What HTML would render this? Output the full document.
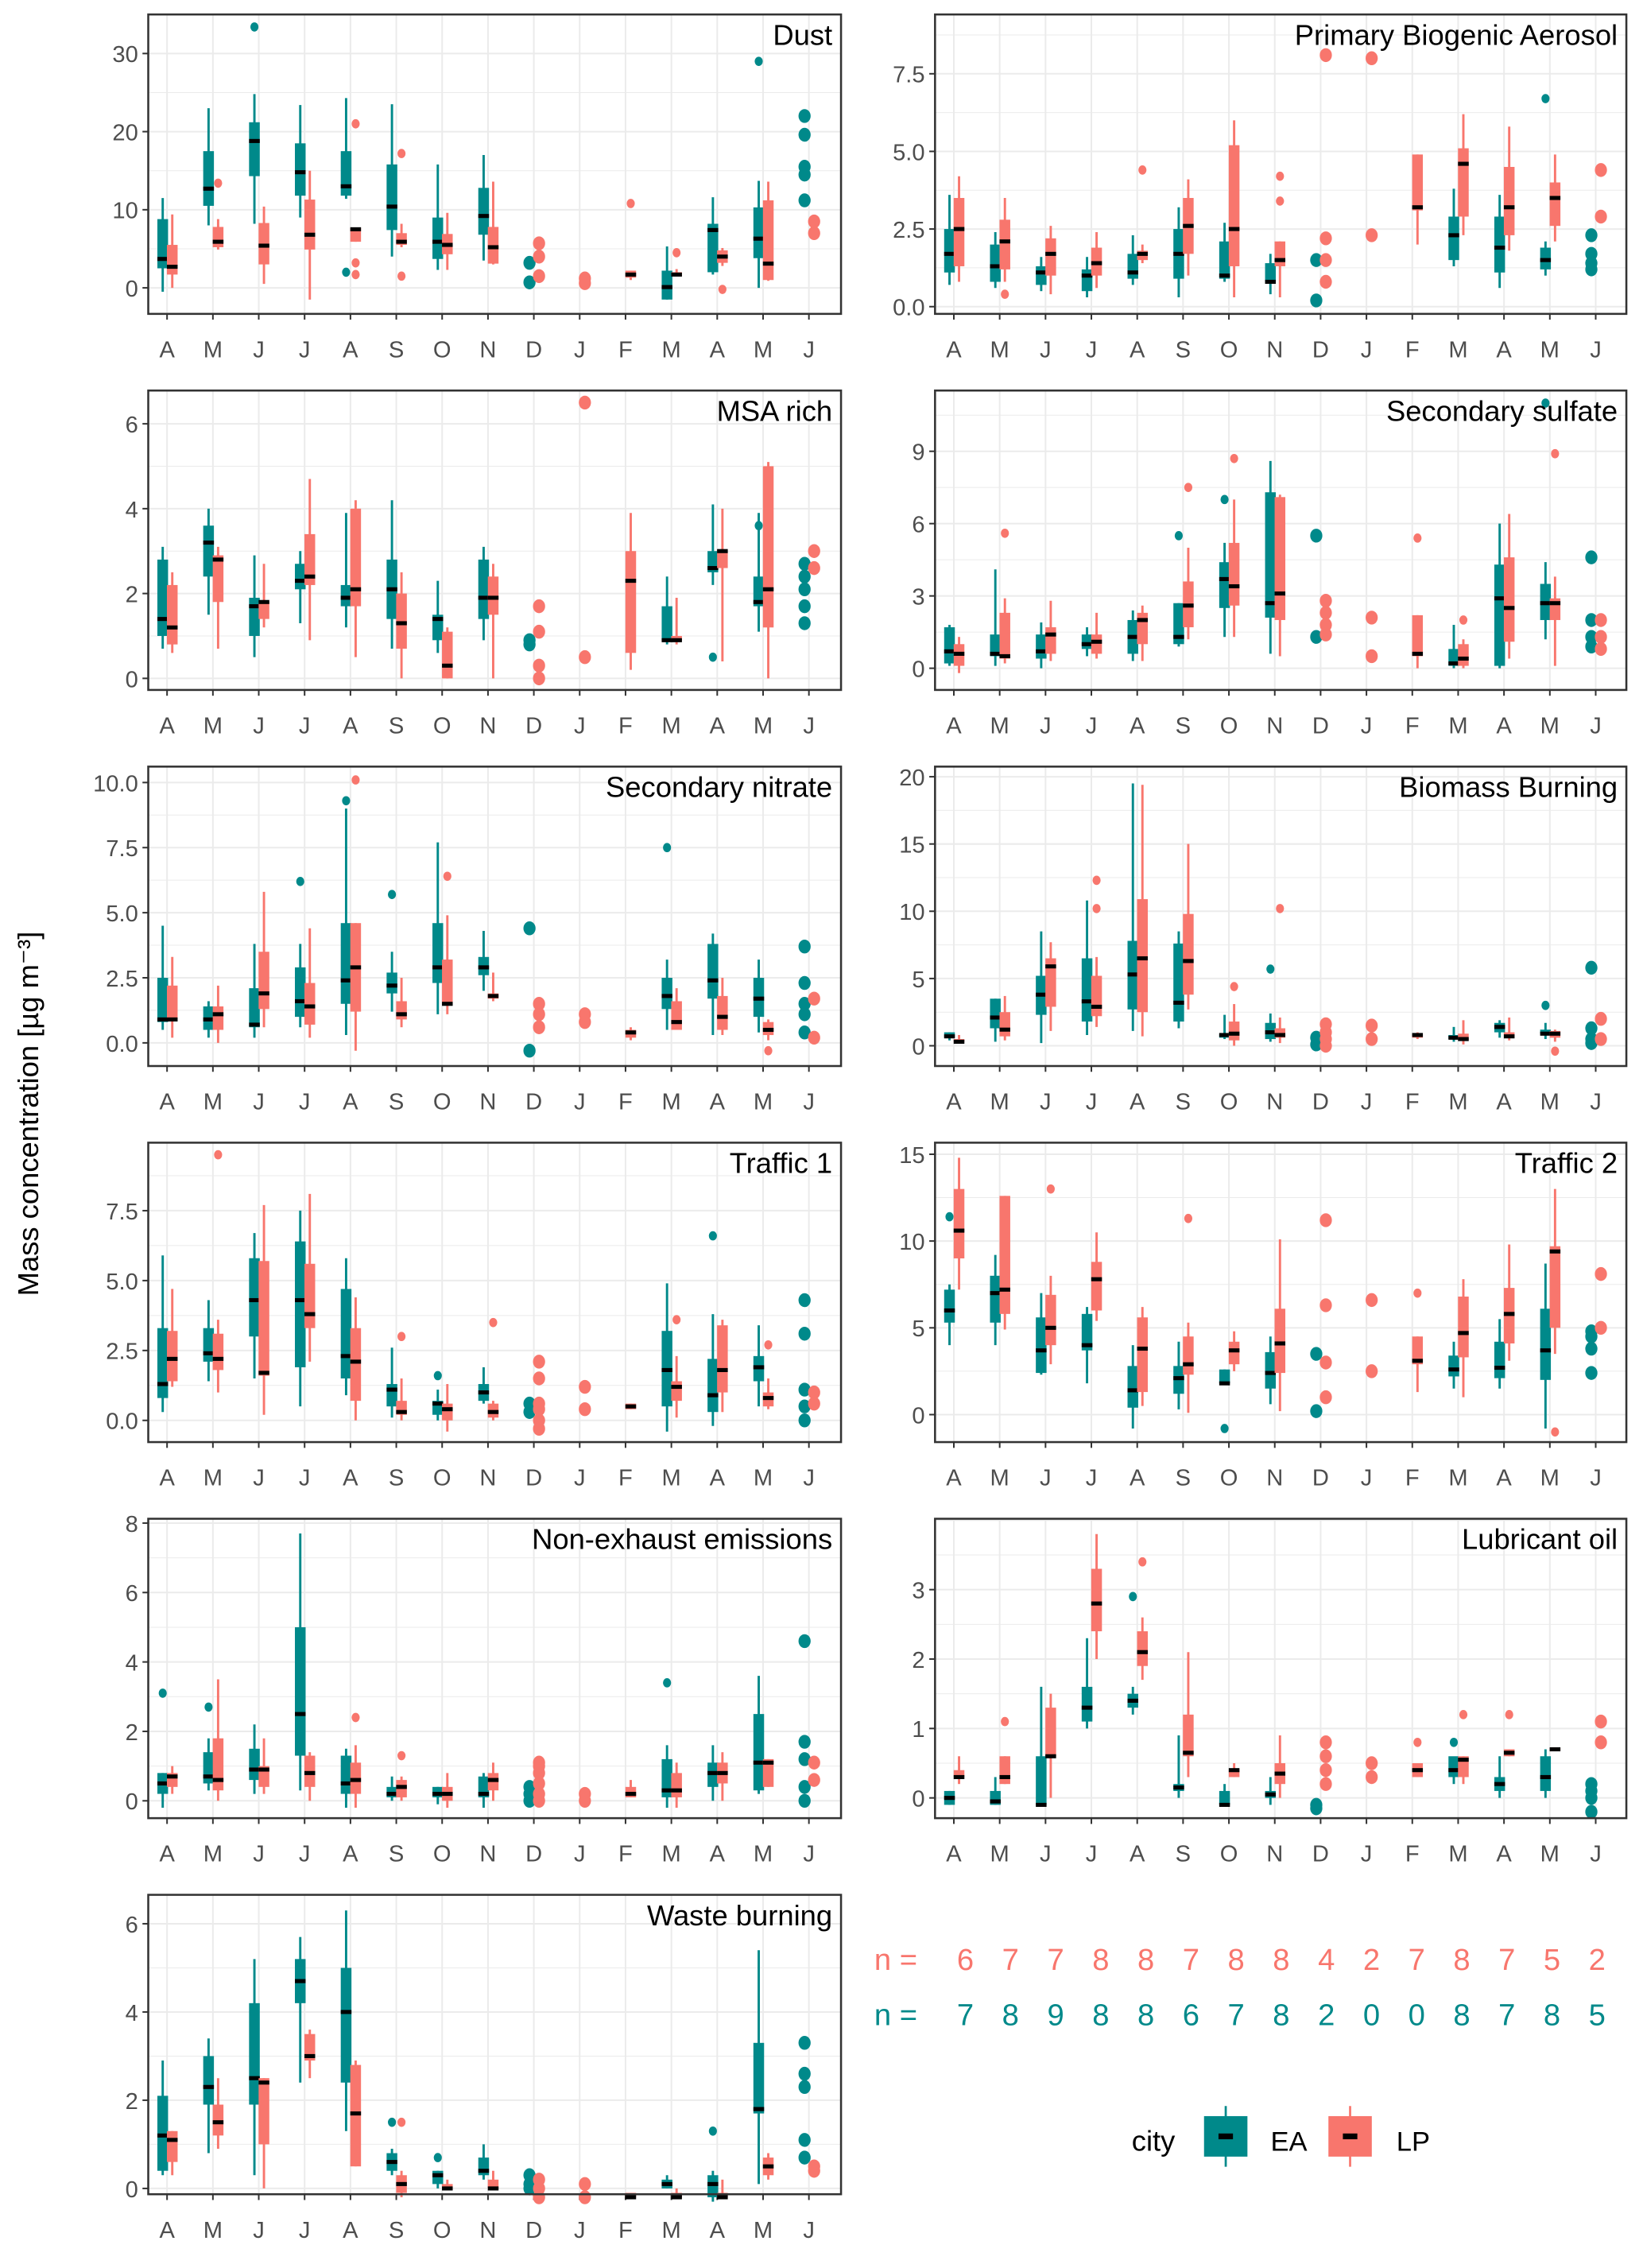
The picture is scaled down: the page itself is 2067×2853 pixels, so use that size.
<!DOCTYPE html>
<html><head><meta charset="utf-8"><style>
html,body{margin:0;padding:0;background:#fff}
svg{display:block}
text{font-family:"Liberation Sans",Arial,sans-serif}
</style></head><body>
<svg id="chart" width="2067" height="2853" viewBox="0 0 1135 1568" xmlns="http://www.w3.org/2000/svg">
<rect width="1135" height="1568" fill="#fff"/>
<text x="26" y="770" font-size="20" text-anchor="middle" transform="rotate(-90 26 770)">Mass concentration [µg m⁻³]</text>
<g id="plots"></g>
<g>
<text x="604" y="1362" font-size="21" fill="#f8766d">n =</text>
<text x="604" y="1400" font-size="21" fill="#00898a">n =</text>
<g id="ncounts"></g>
</g>
<g>
<text x="782" y="1487" font-size="20">city</text>
<g>
<line x1="847" y1="1456" x2="847" y2="1498" stroke="#00898a" stroke-width="1.5"/>
<rect x="832" y="1463" width="30" height="28" fill="#00898a"/>
<rect x="842" y="1475" width="10" height="4" fill="#000"/>
<text x="878" y="1487" font-size="19">EA</text></g>
<g>
<line x1="933" y1="1456" x2="933" y2="1498" stroke="#f8766d" stroke-width="1.5"/>
<rect x="918" y="1463" width="30" height="28" fill="#f8766d"/>
<rect x="928" y="1475" width="10" height="4" fill="#000"/>
<text x="965" y="1487" font-size="19">LP</text></g>
</g>
</svg>
<script>
const months=["A","M","J","J","A","S","O","N","D","J","F","M","A","M","J"];
const nLP=[6,7,7,8,8,7,8,8,4,2,7,8,7,5,2];
const nEA=[7,8,9,8,8,6,7,8,2,0,0,8,7,8,5];
const titles=["Dust","Primary Biogenic Aerosol","MSA rich","Secondary sulfate","Secondary nitrate","Biomass Burning","Traffic 1","Traffic 2","Non-exhaust emissions","Lubricant oil","Waste burning"];
const yTicks=[[0,10,20,30],[0,2.5,5,7.5],[0,2,4,6],[0,3,6,9],[0,2.5,5,7.5,10],[0,5,10,15,20],[0,2.5,5,7.5],[0,5,10,15],[0,2,4,6,8],[0,1,2,3],[0,2,4,6]];
const yTickLabels=[["0","10","20","30"],["0.0","2.5","5.0","7.5"],["0","2","4","6"],["0","3","6","9"],["0.0","2.5","5.0","7.5","10.0"],["0","5","10","15","20"],["0.0","2.5","5.0","7.5"],["0","5","10","15"],["0","2","4","6","8"],["0","1","2","3"],["0","2","4","6"]];
const N=null;
// box stats [lo,q1,med,q3,hi] per month
const eaBox=[
[[-0.5,2.5,3.7,8.8,11.5],[8,10.5,12.7,17.5,23],[8.2,14.3,18.8,21.2,24.8],[9,11.8,14.8,18.5,23.4],[11.4,11.8,13,17.5,24.3],[4,7.4,10.4,15.8,23.5],[2.3,3.7,5.9,9,15.8],[3.5,6.8,9.2,12.8,17],N,N,N,[-1.5,-1.5,0.1,2.2,5.3],[1.7,2,7.4,8.2,11.6],[0,3.8,6.3,10.3,13.7],N],
[[0.7,1.1,1.7,2.5,3.6],[0.6,0.8,1.3,2,2.4],[0.5,0.7,1.1,1.3,1.6],[0.3,0.5,1,1.2,1.6],[0.7,0.9,1.1,1.7,2.3],[0.3,0.9,1.7,2.5,3.2],[0.8,0.9,1,2.1,2.7],[0.4,0.8,0.8,1.4,1.7],N,N,N,[1.3,1.5,2.3,2.9,3.8],[0.6,1.1,1.9,2.9,3.6],[1,1.2,1.5,1.9,2.1],N],
[[0.7,1,1.4,2.8,3.1],[1.5,2.4,3.2,3.6,4],[0.5,1,1.7,1.9,2.9],[1.3,2.1,2.3,2.7,3],[1.2,1.7,1.9,2.2,3.9],[0.7,1.4,2.1,2.8,4.2],[0.6,0.9,1.4,1.5,2.3],[0.9,1.4,1.9,2.8,3.1],N,N,N,[0.8,0.9,0.9,1.7,2.4],[2.2,2.5,2.6,3,4.1],[1.1,1.7,1.8,2.4,3.9],N],
[[0.1,0.2,0.7,1.7,1.8],[0.1,0.5,0.6,1.4,4.1],[0,0.4,0.7,1.4,1.9],[0.5,0.8,1,1.4,1.7],[0.3,0.6,1.3,2,2.4],[0.9,1,1.3,2.7,2.7],[1.3,2.5,3.7,4.4,5.2],[0.6,2.1,2.7,7.3,8.6],N,N,N,[0,0.1,0.2,0.8,1.8],[0,0.1,2.9,4.3,6],[1.2,2,2.7,3.5,4.4],N],
[[0.5,0.8,0.9,2.5,4.5],[0.2,0.5,0.9,1.4,1.6],[0.2,0.6,0.7,2.1,3.8],[0.6,1,1.6,2.9,3.8],[0.3,1.5,2.4,4.6,9],[1.2,1.9,2.2,2.7,3.5],[1.1,2.3,2.9,4.6,7.7],[2,2.6,2.9,3.3,4.3],N,N,N,[0.5,1.3,1.8,2.5,3.2],[0.3,1.7,2.4,3.8,4.2],[0.4,1,1.7,2.5,3.2],N],
[[0.4,0.6,0.7,1,1],[0.3,1.3,2.1,3.5,3.5],[0.2,2.3,3.8,5.2,8.5],[0.8,1.8,3.3,6.5,10.8],[1.1,2.7,5.3,7.8,19.5],[1.3,1.8,3.2,7.6,8.5],[0.5,0.6,0.8,0.9,2.3],[0.3,0.5,1,1.7,2.4],N,N,N,[0.3,0.5,0.6,0.8,1.4],[0.6,1,1.4,1.7,1.9],[0.5,0.9,0.9,1.2,1.7],N],
[[0.3,0.8,1.3,3.3,5.9],[1.4,2.1,2.4,3.3,4.3],[1.5,3,4.3,5.8,6.7],[0.5,1.9,4.3,6.4,7.5],[0.9,1.5,2.3,4.7,5.8],[0.1,0.5,1.1,1.3,2.6],[0,0.2,0.6,0.7,1.1],[0.6,0.7,1,1.3,1.9],N,N,N,[-0.4,0.5,1.8,3.2,4.9],[-0.2,0.3,0.9,2.2,3.8],[0.5,1.4,1.9,2.3,3.4],N],
[[4,5.3,6,7.2,7.5],[4,5.3,7,8,9.2],[2.3,2.4,3.7,5.6,7],[1.8,3.7,4,5.8,6.2],[-0.8,0.4,1.4,2.8,4],[0.3,1.2,2.1,2.8,4.2],[1.7,1.8,1.8,2.6,2.6],[0.6,1.5,2.4,3.6,4.5],N,N,N,[1.5,2.2,2.6,3.4,4.2],[1.5,2.1,2.7,4.2,5.5],[-0.8,2,3.7,6.1,8.7],N],
[[-0.2,0.2,0.5,0.8,0.8],[0.3,0.5,0.7,1.4,1.8],[0.2,0.6,0.9,1.5,2.2],[0.3,1.3,2.5,5,7.7],[-0.2,0.2,0.5,1.3,1.5],[0,0.1,0.2,0.4,0.7],[-0.1,0.1,0.2,0.4,0.4],[-0.2,0.1,0.2,0.7,0.8],N,N,N,[-0.2,0.1,0.3,1.2,1.6],[0,0.4,0.8,1.1,1.6],[0.2,0.3,1.1,2.5,3.6],N],
[[-0.1,-0.1,0,0.1,0.1],[-0.1,-0.1,-0.05,0.1,0.3],[-0.1,-0.1,-0.1,0.6,1.6],[1,1.1,1.3,1.6,2.3],[1.2,1.3,1.4,1.5,1.6],[0,0.1,0.15,0.2,0.9],[-0.1,-0.1,-0.1,0.1,0.2],[-0.1,0,0.05,0.1,0.3],N,N,N,[0.2,0.3,0.4,0.6,0.55],[0,0.1,0.2,0.3,0.6],[0,0.1,0.3,0.6,0.7],N],
[[0.3,0.4,1.2,2.1,2.9],[0.8,1.9,2.3,3,3.4],[0.3,1.9,2.5,4.2,5.2],[2.4,4.2,4.7,5.2,5.7],[1.3,2.4,4,5,6.3],[0.3,0.4,0.6,0.8,0.9],[0,0.1,0.3,0.4,0.4],[0.2,0.3,0.4,0.7,1],N,N,N,[0,0,0.1,0.2,0.3],[-0.3,-0.2,0.1,0.3,0.4],[0.1,1.7,1.8,3.3,5.4],N]
];
const lpBox=[
[[0,1.7,2.7,5.5,9.4],[4.9,5.2,5.9,7.8,8.8],[0.5,3,5.4,8.3,10.4],[-1.5,4.9,6.8,11.3,15],[5.9,5.9,7.5,7.7,7.7],[5.2,5.5,5.9,7,8.2],[2.3,4.3,5.5,6.9,9.6],[3,3.1,5.2,7.8,13.6],N,N,[1,1.3,1.7,2.2,2.2],[1.5,1.5,1.7,2,2.4],[2.8,3.2,4,4.8,5.1],[0.9,1,3.1,11.2,13.6],N],
[[0.8,1.3,2.5,3.5,4.2],[0.8,1.2,2.1,2.8,3.5],[0.4,1,1.7,2.2,2.6],[0.6,1,1.4,1.9,2.4],[1.4,1.5,1.7,1.8,2],[1,1.7,2.6,3.5,4.1],[0.3,1.3,2.5,5.2,6],[0.3,1.3,1.5,2.1,2.1],N,N,[2,3.1,3.2,4.9,4.9],[2.3,2.9,4.6,5.1,6.2],[1.8,2.3,3.2,4.5,5.8],[2.1,2.6,3.5,4,4.9],N],
[[0.6,0.8,1.2,2.2,2.5],[0.7,1.8,2.8,2.9,3.1],[1.2,1.4,1.8,1.8,2.7],[0.9,2.2,2.4,3.4,4.7],[0.5,1.7,2.1,4,4.2],[0,0.7,1.3,2,2.5],[0,0,0.3,1.1,1.2],[0,1.5,1.9,2.4,2.7],N,N,[0.2,0.6,2.3,3,3.9],[0.8,0.9,0.9,1,1.9],[0.4,2.6,3,3,4],[0,1.2,2.1,5,5.1],N],
[[-0.2,0.1,0.6,1,1.3],[0.2,0.4,0.5,2.3,2.9],[0.3,0.6,1.4,1.7,2.8],[0.4,0.6,1.1,1.4,2.3],[0.3,1,2,2.3,2.6],[1.2,1.7,2.6,3.6,5],[1.3,2.6,3.4,5.2,7],[0.5,2,3.1,7.1,7.2],N,N,[0,0.5,0.6,2.2,2.2],[0,0.1,0.4,1,1.2],[0.4,1.1,2.5,4.6,6.4],[0.1,2,2.7,2.9,3.8],N],
[[0.2,0.9,0.9,2.2,3.3],[0,0.5,1.1,1.4,2.2],[0.6,1.3,1.9,3.5,5.8],[0.2,0.7,1.4,2.3,4.4],[-0.3,1.2,2.9,4.6,4.6],[0.6,0.9,1.1,1.6,2.5],[1.1,1.5,1.5,3.2,4.9],[1.6,1.7,1.8,1.9,2.7],N,N,[0.1,0.2,0.4,0.5,0.6],[0.5,0.5,0.8,1.6,2.1],[0.3,0.5,1,1.8,2.5],[0.1,0.3,0.5,0.8,0.9],N],
[[0.2,0.3,0.3,0.5,0.8],[0.4,0.7,1.2,2.5,3.7],[1.1,2.9,5.9,6.5,7.7],[1.4,2.2,2.9,5.2,6.6],[0.7,2.5,6.5,10.9,19.4],[2.7,3.8,6.3,9.8,15],[0,0.4,0.9,1.8,3.1],[0.2,0.6,0.8,1.3,2.1],N,N,[0.5,0.6,0.8,0.9,1],[0.1,0.4,0.5,0.9,1.9],[0.4,0.6,0.7,1,2.1],[0.3,0.6,0.9,1.1,1.2],N],
[[1.2,1.4,2.2,3.2,4.7],[1,1.8,2.2,3.1,3.6],[0.2,1.6,1.7,5.7,7.7],[2.1,3.3,3.8,5.6,8.1],[0,0.7,2.1,3.3,4.4],[0,0.2,0.3,0.7,1.5],[-0.4,0,0.4,0.6,1.3],[0,0.1,0.3,0.6,0.7],N,N,[0.4,0.4,0.5,0.6,0.6],[0.1,0.7,1.2,1.4,2.3],[0.3,1,1.8,3.4,3.6],[0.4,0.5,0.8,1,1.5],N],
[[7.2,9,10.6,13,14.8],[4.9,5.8,7.2,12.6,12.6],[2.9,4,5,6.9,8],[5.4,6,7.8,8.8,10.5],[0.5,1.3,3.8,5.6,6.2],[0.1,2.3,2.9,4.5,5.3],[2.5,2.9,3.7,4.2,4.8],[0.2,2.4,4.1,6.1,10.1],N,N,[1.3,2.9,3.1,4.5,4.5],[1,3.3,4.7,6.8,7.8],[3.1,4.1,5.8,7.3,9.8],[3.5,5,9.4,9.7,13],N],
[[0.2,0.4,0.7,0.8,1],[0,0.3,0.6,1.8,3.5],[0.2,0.4,0.9,1,1.8],[0,0.4,0.8,1.3,1.4],[-0.2,0.2,0.6,1.1,1.6],[0,0.1,0.4,0.6,0.7],[-0.2,0,0.2,0.4,0.8],[0,0.3,0.6,0.8,1.1],N,N,[0.1,0.1,0.2,0.4,0.6],[-0.2,0.1,0.3,0.8,1.1],[0,0.5,0.8,1.1,1.4],[0.4,0.4,1.1,1.2,1.2],N],
[[0.2,0.3,0.3,0.4,0.6],[0.2,0.2,0.3,0.6,0.6],[0,0.6,0.6,1.3,1.5],[2,2.4,2.8,3.3,3.8],[1.7,1.9,2.1,2.4,2.6],[0.3,0.6,0.65,1.2,2.1],[0.3,0.3,0.4,0.4,0.5],[0,0.2,0.35,0.5,0.9],N,N,[0.3,0.3,0.4,0.5,0.5],[0.2,0.3,0.55,0.6,0.6],[0.6,0.6,0.65,0.7,0.7],[0.7,0.7,0.7,0.72,0.72],N],
[[0.3,0.6,1.1,1.3,1.3],[0.9,1.2,1.5,1.9,2.5],[0,1,2.4,2.5,2.5],[2.5,2.9,3,3.5,3.6],[0.5,0.5,1.7,2.8,2.9],[-0.2,-0.1,0.1,0.3,0.4],[0,0,0,0.1,0.2],[0,0,0,0.2,0.4],N,N,[-0.2,-0.2,-0.2,-0.1,-0.1],[-0.2,-0.2,-0.2,-0.1,0],[-0.2,-0.2,-0.2,-0.1,0.2],[0.2,0.3,0.5,0.7,0.8],N]
];
// individual points / outliers per month
const E=[];
const eaPts=[
[E,E,[33.4],E,[2],E,E,E,[0.7,3.2],E,E,E,E,[29],[11.2,14.5,15.5,19.6,22]],
[E,E,E,E,E,E,E,E,[0.2,1.5],E,E,E,E,[6.7],[1.2,1.4,1.7,2.3]],
[E,E,E,E,E,E,E,E,[0.8,0.9],E,E,E,[0.5],[3.6],[1.3,1.7,2.1,2.4,2.7]],
[E,E,E,E,E,[5.5],[7],E,[1.3,5.5],E,E,E,E,[11],[0.9,1.3,2,4.6]],
[E,E,E,[6.2],[9.3],[5.7],E,E,[-0.3,4.4],E,E,[7.5],E,E,[0.4,1.1,1.5,2.3,3.7]],
[E,E,E,E,E,E,E,[5.7],[0.1,0.6],E,E,E,E,[3],[0.2,0.5,1.3,5.8]],
[E,E,E,E,E,E,[1.6],E,[0.3,0.6],E,E,E,[6.6],E,[0,0.5,1.1,3.1,4.3]],
[[11.4],E,E,E,E,E,[-0.8],E,[0.2,3.5],E,E,E,E,E,[2.4,3.8,4.5,4.8]],
[[3.1],[2.7],E,E,E,E,E,E,[0,0.2,0.4],E,E,[3.4],E,E,[0,0.4,1.2,1.7,4.6]],
[E,E,E,E,[2.9],E,E,E,[-0.1,-0.15],E,E,[0.8],E,E,[-0.2,0,0.1,0.2]],
[E,E,E,E,E,[1.5],[0.7],E,[0,0.1,0.3],E,E,E,[1.3],E,[0.7,1.1,2.3,2.6,3.3]]
];
const lpPts=[
[E,[13.4],E,E,[1.7,3.2,21],[1.5,17.2],E,E,[1.5,4,5.7],[0.6,1.2],[10.8],[4.5],[-0.2],E,[7,8.5]],
[E,[0.4],E,E,[4.4],E,E,[3.4,4.2],[0.8,1.5,2.2,8.1],[2.3,8],E,E,E,E,[2.9,4.4]],
[E,E,E,E,E,E,E,E,[0,0.3,1.1,1.7],[0.5,6.5],E,E,E,E,[2.6,3]],
[E,[5.6],E,E,E,[7.5],[8.7],E,[1.4,1.8,2.3,2.8],[0.5,2.1],[5.4],[2],E,[8.9],[0.8,1.3,2]],
[E,E,E,E,[10.1],E,[6.4],E,[0.6,1.1,1.5],[0.8,1.1],E,E,E,[-0.3],[0.2,1.7]],
[E,E,E,[10.2,12.3],E,E,[4.4],[10.2],[0,0.5,1,1.6],[0.5,1.5],E,E,E,[-0.4],[0.5,2]],
[E,[9.5],E,E,E,[3],E,[3.5],[-0.3,0,0.4,0.6,1.5,2.1],[0.4,1.2],E,[3.6],E,[2.7],[0.6,1]],
[E,E,[13],E,E,[11.3],E,E,[1,3,6.3,11.2],[2.5,6.6],[7],E,E,[-1],[5,8.1]],
[E,E,E,E,[2.4],[1.3],E,E,[0,0.2,0.5,0.8,1,1.1],[0,0.2],E,E,E,E,[0.6,1.1]],
[E,[1.1],E,E,[3.4],E,E,E,[0.2,0.4,0.6,0.8],[0.3,0.5],[0.8],[1.2],[1.2],E,[0.8,1.1]],
[E,E,E,E,E,[1.5],E,E,[-0.2,0,0.2],[-0.2,0.1],E,E,E,E,[0.4,0.5]]
];
const EA_COL="#00898a", LP_COL="#f8766d";
const NS="http://www.w3.org/2000/svg";
function mk(tag,attrs,parent){const e=document.createElementNS(NS,tag);for(const k in attrs)e.setAttribute(k,attrs[k]);if(parent)parent.appendChild(e);return e;}
// panel geometry: [x0,x1,top,bottom,zeroY,maxTick,maxTickY]
const geo=[[37,199],[51,212],[293,469],[312,462],[541,721],[537,723],[837,982],[798,978],[1053,1245],[1099,1243],[1330,1513]];
const plots=document.getElementById('plots');
for(let p=0;p<11;p++){
  const col=p%2,row=Math.floor(p/2);
  const x0=col?646:102,x1=col?1124:581;
  const top=10+260*row,bot=217+260*row;
  const ticks=yTicks[p];const tmax=ticks[ticks.length-1];
  const yTop=geo[p][0],y0=geo[p][1];
  const ys=v=>y0-(v/tmax)*(y0-yTop);
  const xs=i=>x0+13+i*31.7;
  const g=mk('g',{},plots);
  
  
  mk('rect',{x:x0,y:top,width:x1-x0,height:bot-top,fill:'#fff'},g);
  // grid
  const step=ticks[1]-ticks[0];
  for(let v=ticks[0]-step/2;v<=tmax+step;v+=step/2){
    const y=ys(v); if(y<top||y>bot)continue;
    const major=Math.abs((v/step)-Math.round(v/step))<1e-6;
    mk('line',{x1:x0,x2:x1,y1:y,y2:y,stroke:'#ebebeb','stroke-width':major?1.1:0.55},g);
  }
  for(let i=0;i<15;i++)mk('line',{x1:xs(i),x2:xs(i),y1:top,y2:bot,stroke:'#ebebeb','stroke-width':1.1},g);
  // ticks
  ticks.forEach((v,k)=>{const y=ys(v);
    mk('line',{x1:x0-4,x2:x0,y1:y,y2:y,stroke:'#333','stroke-width':1.1},g);
    const t=mk('text',{x:x0-7,y:y+6,'font-size':16,'text-anchor':'end',fill:'#4d4d4d'},g);
    
    
    t.textContent=yTickLabels[p][k];});
  months.forEach((m,i)=>{
    mk('line',{x1:xs(i),x2:xs(i),y1:bot,y2:bot+4,stroke:'#333','stroke-width':1.1},g);
    const t=mk('text',{x:xs(i),y:bot+30,'font-size':16,'text-anchor':'middle',fill:'#4d4d4d'},g);
    
    
    t.textContent=m;});
  // series
  [[eaBox[p],eaPts[p],EA_COL,-3,'ea'],[lpBox[p],lpPts[p],LP_COL,3.6,'lp']].forEach(([boxes,pts,c,off,nm])=>{
    for(let i=0;i<15;i++){
      const cx=xs(i)+off;const b=boxes[i];
      if(b){
        const bg=mk('g',{},g);
        
        
        mk('line',{x1:cx,x2:cx,y1:ys(b[0]),y2:ys(b[4]),stroke:c,'stroke-width':1.6},bg);
        const yq3=ys(b[3]),yq1=ys(b[1]);
        mk('rect',{x:cx-3.7,y:Math.min(yq3,yq1),width:7.4,height:Math.max(Math.abs(yq1-yq3),2),fill:c},bg);
        mk('rect',{x:cx-3.7,y:ys(b[2])-1.4,width:7.4,height:2.8,fill:'#000'},bg);
      }
      const big=!b;
      pts[i].forEach(v=>{
        const pt=mk('ellipse',{cx:cx,cy:ys(v),rx:big?4.2:2.8,ry:big?4.8:3.2,fill:c},g);
        
        
      });
    }
  });
  mk('rect',{x:x0,y:top,width:x1-x0,height:bot-top,fill:'none',stroke:'#333','stroke-width':1.4},g);
  const tt=mk('text',{x:x1-6,y:top+21,'font-size':20,'text-anchor':'end',fill:'#000'},g);
  
  
  tt.textContent=titles[p];
}
const nc=document.getElementById('ncounts');
for(let i=0;i<15;i++){
  const a=mk('text',{x:667+i*31.2,y:1362,'font-size':21,'text-anchor':'middle',fill:LP_COL},nc);
  
  
  a.textContent=nLP[i];
  const b=mk('text',{x:667+i*31.2,y:1400,'font-size':21,'text-anchor':'middle',fill:EA_COL},nc);
  
  
  b.textContent=nEA[i];
}
</script>
</body></html>
